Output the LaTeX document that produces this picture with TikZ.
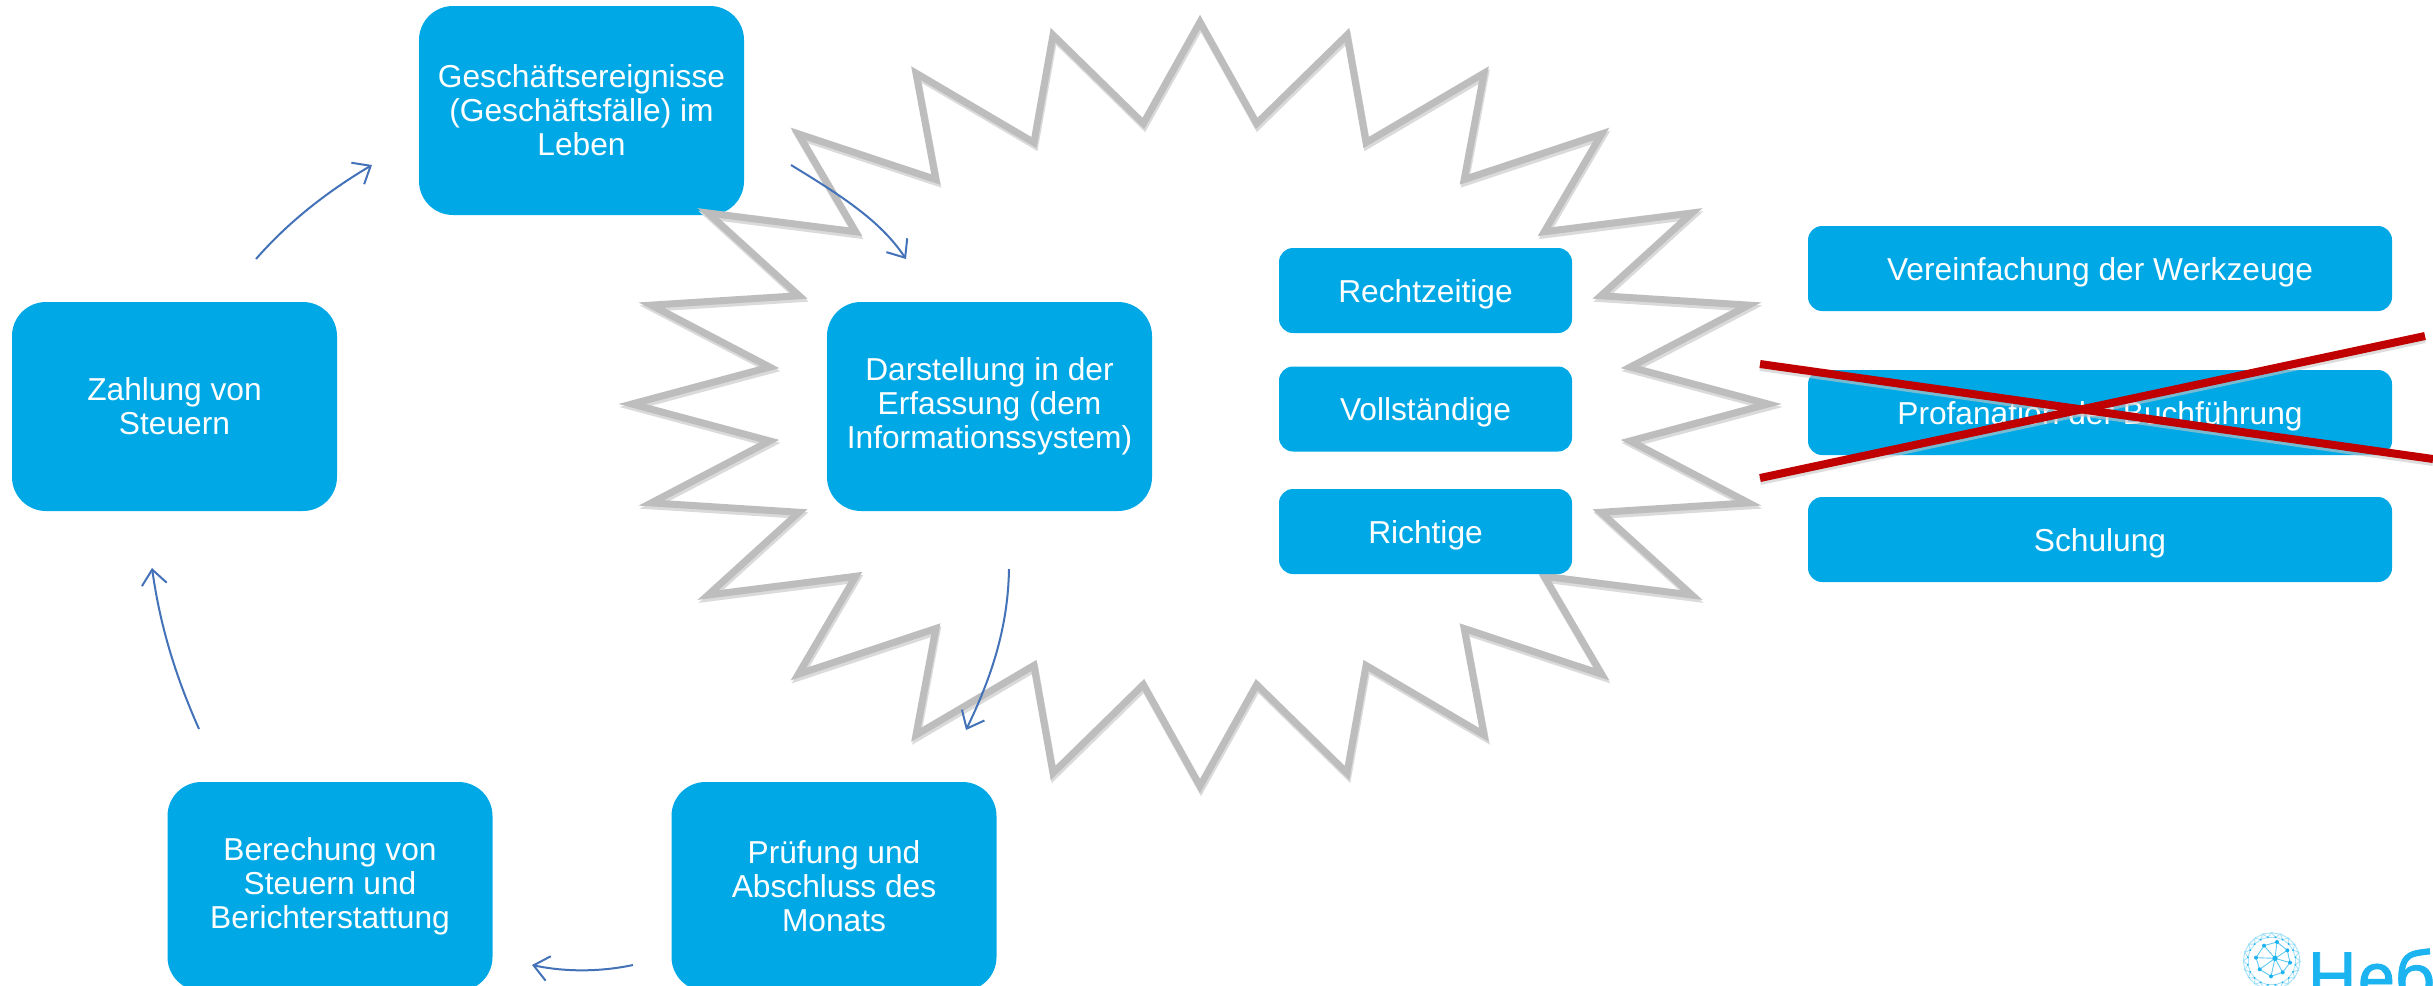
\documentclass[tikz,border=0pt]{standalone}
\usepackage{fontspec}
\setmainfont{Liberation Sans}
\newfontfamily\logofont[FakeBold=1.2]{Noto Sans}
\usetikzlibrary{arrows.meta}
\definecolor{boxblue}{HTML}{00A9E6}
\definecolor{starline}{HTML}{BDBDBD}
\definecolor{starshadow}{HTML}{DADADA}
\definecolor{arrowblue}{HTML}{4472B8}
\definecolor{crossred}{HTML}{C00000}
\definecolor{logoblue}{HTML}{1CB4F0}
\tikzset{
  every node/.style={inner sep=0pt,outer sep=0pt},
  panel/.style={fill=boxblue,text=white,align=center,rounded corners=#1,font=\fontsize{31.7}{34}\selectfont},
  bigbox/.style={panel=34pt,minimum width=325pt,minimum height=209pt,execute at begin node={\rule{0pt}{27pt}}},
  smallbox/.style={panel=14pt,minimum width=293pt,minimum height=85pt,text height=23pt,text depth=0pt},
  widebox/.style={panel=14pt,minimum width=584pt,minimum height=85pt,text height=23pt,text depth=0pt},
  flow/.style={draw=arrowblue,line width=2pt,-{Straight Barb[length=15pt,width=25pt,line width=2pt]}},
  crossout/.style={draw=crossred,line width=8pt},
  crossshade/.style={draw=black!22,line width=8pt,opacity=.6},
  logoline/.style={draw=logoblue!70,line width=.9pt},
}
\begin{document}
\begin{tikzpicture}[x=1pt,y=-1pt]
\path[use as bounding box] (0,0) rectangle (2433,985);
\clip (0,0) rectangle (2433,985);
\fill[white] (0,0) rectangle (2433,985);
\node[bigbox] (events) at (581.5,110.5) {Geschäftsereignisse\\(Geschäftsfälle) im\\Leben};
\draw[starshadow,line width=7pt,miter limit=12] plot[samples at={0,...,47}] ({1201+(iseven(\x)?568:434)*cos(\x*7.5)},{407+(iseven(\x)?382:283)*sin(\x*7.5)}) -- cycle;
\draw[starline,line width=7pt,miter limit=12] plot[samples at={0,...,47}] ({1200+(iseven(\x)?568:434)*cos(\x*7.5)},{404+(iseven(\x)?382:283)*sin(\x*7.5)}) -- cycle;
\node[bigbox] (record) at (989.5,406.5) {Darstellung in der\\Erfassung (dem\\Informationssystem)};
\node[bigbox] (tax) at (174.5,406.5) {Zahlung von\\Steuern};
\node[bigbox] (calc) at (330,886.5) {Berechung von\\Steuern und\\Berichterstattung};
\node[bigbox] (close) at (834,886.5) {Prüfung und\\Abschluss des\\Monats};
\node[smallbox] (r1) at (1425.5,290.5) {Rechtzeitige};
\node[smallbox] (r2) at (1425.5,409) {Vollständige};
\node[smallbox] (r3) at (1425.5,531.5) {Richtige};
\node[widebox] (s1) at (2100,268.5) {Vereinfachung der Werkzeuge};
\node[widebox] (s2) at (2100,412.5) {Profanation der Buchführung};
\node[widebox] (s3) at (2100,539.5) {Schulung};
\coordinate (a1s) at (256,259); \coordinate (a1e) at (372,165);
\coordinate (a2s) at (791,165); \coordinate (a2e) at (906,259);
\coordinate (a3s) at (1009,569); \coordinate (a3e) at (966,730);
\coordinate (a4s) at (633,965); \coordinate (a4e) at (532,965);
\coordinate (a5s) at (199,729); \coordinate (a5e) at (152,568);
\draw[flow] (a1s) .. controls (290,220) and (330,190) .. (a1e);
\draw[flow] (a2s) .. controls (840,195) and (880,220) .. (a2e);
\draw[flow] (a3s) .. controls (1008,630) and (990,680) .. (a3e);
\draw[flow] (a4s) .. controls (600,972) and (565,972) .. (a4e);
\draw[flow] (a5s) .. controls (175,675) and (160,625) .. (a5e);
\coordinate (x1a) at (1760,364); \coordinate (x1b) at (2433,459);
\coordinate (x2a) at (1760,478); \coordinate (x2b) at (2425,336);
\draw[crossshade] ([yshift=-3pt]x1a) -- ([yshift=-3pt]x1b);
\draw[crossshade] ([yshift=-3pt]x2a) -- ([yshift=-3pt]x2b);
\draw[crossout] (x1a) -- (x1b);
\draw[crossout] (x2a) -- (x2b);
% logo
\begin{scope}[shift={(2150,900)},x=.3333pt,y=-.3333pt]
  \foreach \i in {0,...,19}{
    \coordinate (o\i) at ({365+85*cos(\i*18)},{183+85*sin(\i*18)});
    \coordinate (m\i) at ({365+72*cos(\i*18+9)},{183+72*sin(\i*18+9)});
  }
  \foreach \i [evaluate=\i as \j using {int(mod(\i+1,20))}] in {0,...,19}{
    \draw[logoline,opacity=.55] (o\i) -- (o\j) -- (m\i) -- (o\i);
    \draw[logoline,opacity=.55] (m\i) -- (m\j);
    \fill[logoblue] (m\i) circle (3);
  }
  \foreach \n/\p in {c/{375,175},a/{318,173},b/{342,137},d/{381,126},e/{412,151},f/{420,188},g/{398,217},h/{363,229},k/{329,208}}
    \coordinate (\n) at (\p);
  \draw[logoline] (a) -- (c) (b) -- (c) (d) -- (c) (e) -- (c) (f) -- (c) (g) -- (c) (h) -- (c) (k) -- (c);
  \draw[logoline] (a) -- (b) -- (d) -- (e) -- (f) -- (g) -- (h) -- (k) -- (a);
  \foreach \n in {a,b,d,e,f,g,h,k} \fill[logoblue] (\n) circle (6);
  \fill[logoblue] (c) circle (8);
\end{scope}
\node[anchor=base west,text=logoblue,font=\logofont\fontsize{68}{68}\selectfont] (brand) at (2307,1001) {Небо};
\end{tikzpicture}
\end{document}
